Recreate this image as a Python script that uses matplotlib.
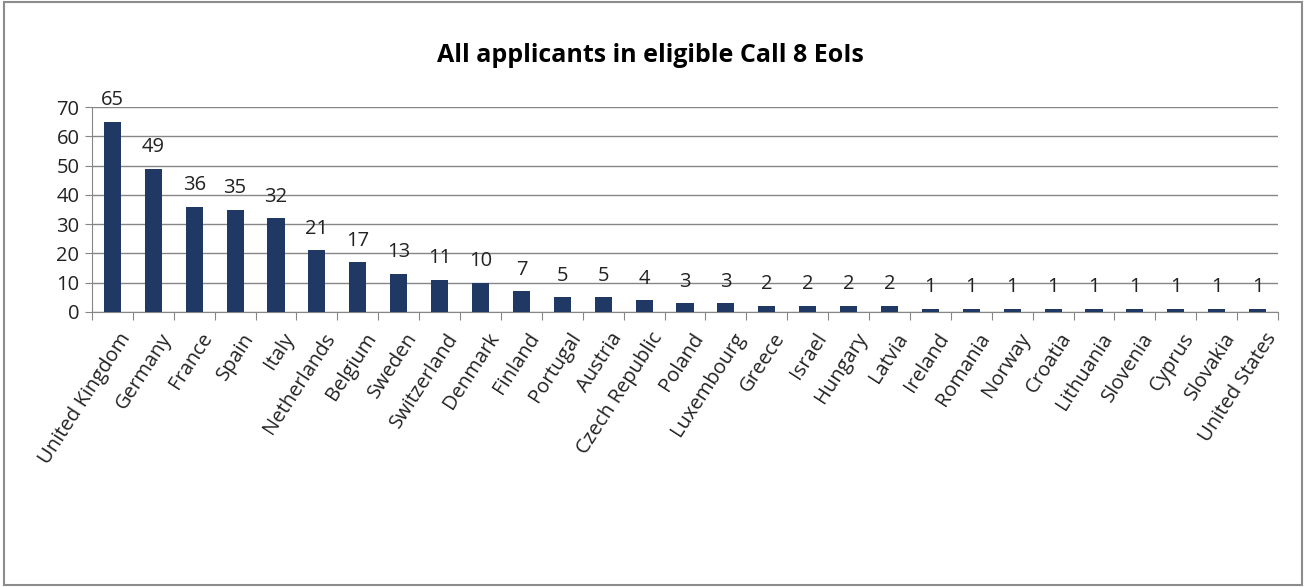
import matplotlib
matplotlib.use("Agg")
import matplotlib.pyplot as plt
import matplotlib.transforms as mtransforms
import numpy as np
from matplotlib.patches import Rectangle

countries = ["United Kingdom", "Germany", "France", "Spain", "Italy", "Netherlands",
             "Belgium", "Sweden", "Switzerland", "Denmark", "Finland", "Portugal",
             "Austria", "Czech Republic", "Poland", "Luxembourg", "Greece", "Israel",
             "Hungary", "Latvia", "Ireland", "Romania", "Norway", "Croatia",
             "Lithuania", "Slovenia", "Cyprus", "Slovakia", "United States"]
applicants = [65, 49, 36, 35, 32, 21, 17, 13, 11, 10, 7, 5, 5, 4, 3, 3, 2, 2, 2, 2,
              1, 1, 1, 1, 1, 1, 1, 1, 1]
y_ticks = [0, 10, 20, 30, 40, 50, 60, 70]

plt.rcParams['font.family'] = ['Open Sans', 'DejaVu Sans']
grey = '#868686'
txt = '#222222'

fig = plt.figure(figsize=(13.06, 5.87), dpi=100)
ax = fig.add_axes([0.0704, 0.4685, 0.9082, 0.3492])

x = np.arange(len(countries))
ax.bar(x, applicants, width=0.42, color='#1F3864', zorder=3)
for xi, v in zip(x, applicants):
    ax.annotate(str(v), (xi, v), xytext=(0, 12), textcoords='offset points',
                ha='center', va='baseline', fontsize=14.5, color=txt, zorder=4)

ax.set_xlim(-0.5, len(countries) - 0.5)
ax.set_ylim(0, 70)
ax.set_yticks(y_ticks)
ax.yaxis.grid(True, color=grey, linewidth=1)
ax.set_axisbelow(True)
ax.set_xticks(np.arange(len(countries) + 1) - 0.5, minor=False)
ax.set_xticklabels([])
ax.set_xticks(x, minor=True)
ax.set_xticklabels(countries, minor=True, rotation=57, ha='right', rotation_mode='anchor',
                   fontsize=14.5, color=txt)
ax.tick_params(axis='x', which='major', length=6, color=grey, direction='out')
ax.tick_params(axis='x', which='minor', length=0, pad=8)
ax.tick_params(axis='y', length=5, color=grey, labelsize=14.5, labelcolor=txt, pad=4)
shift = mtransforms.ScaledTranslation(6 / 100, -6 / 100, fig.dpi_scale_trans)
for lab in ax.xaxis.get_minorticklabels():
    lab.set_transform(lab.get_transform() + shift)
for side in ['top', 'right']:
    ax.spines[side].set_visible(False)
for side in ['left', 'bottom']:
    ax.spines[side].set_color(grey)

fig.text(0.498, 0.905, "All applicants in eligible Call 8 EoIs", ha='center', va='center',
         fontsize=18, fontweight='bold')

fig.patches.append(Rectangle((0.003, 0.003), 0.994, 0.994, transform=fig.transFigure,
                             fill=False, edgecolor='#8c8c8c', linewidth=1.5))

fig.savefig('out.png', dpi=100)
